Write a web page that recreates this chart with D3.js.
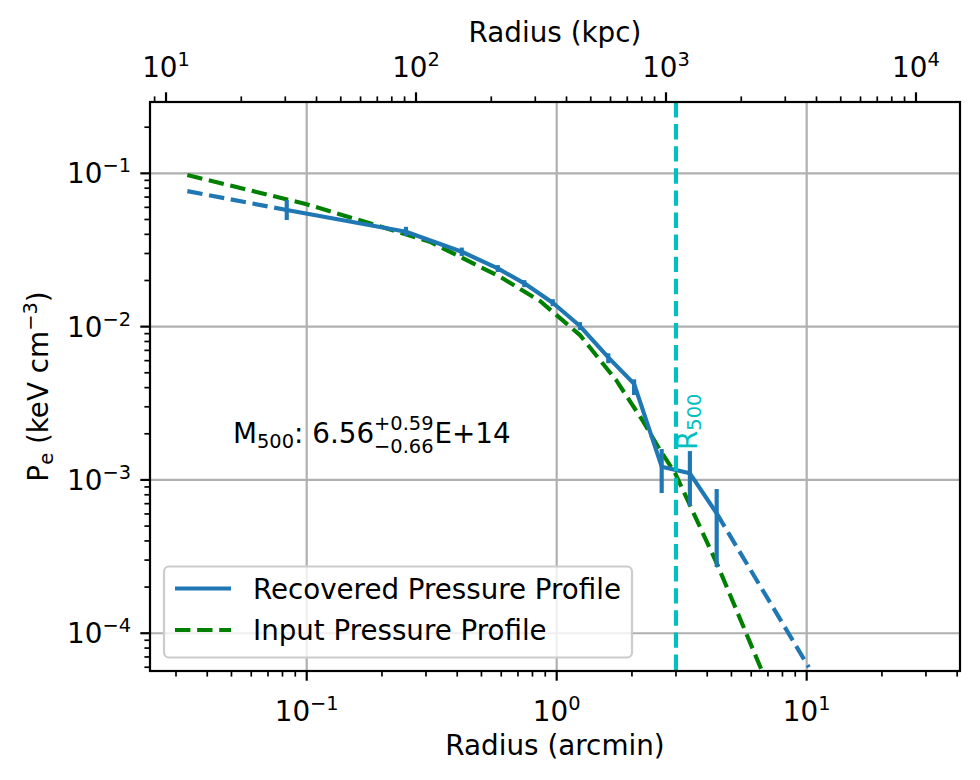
<!DOCTYPE html>
<html><head><meta charset="utf-8">
<script src="https://cdn.jsdelivr.net/npm/d3@7"></script>
<style>body{margin:0;background:#fff} text{font-family:"DejaVu Sans",sans-serif;fill:#000}</style>
</head><body><svg id="c" width="980" height="780"></svg>
<script>
// ---- data ----
const recRadius = [0.0832,0.2495,0.417,0.581,0.742,0.964,1.239,1.608,2.04,2.63,3.41,4.365];
const recP      = [0.0576,0.0416,0.0308,0.0240,0.01916,0.01432,0.01009,0.0063,0.00423,0.00122,0.001104,0.000605];
const recHi     = [0.0670,0.0448,0.0328,0.0252,0.0201,0.0151,0.0107,0.0067,0.00453,0.00159,0.001543,0.000872];
const recLo     = [0.0496,0.0390,0.0289,0.0227,0.0181,0.0136,0.00949,0.00577,0.00358,0.000822,0.000676,0.000270];
const innerR = [0.0333,0.0832];
const innerP = [0.0766,0.0576];
const outerR = [4.365,10.2];
const outerP = [0.000605,0.0000600];
const inputR = [0.0333,0.05,0.1,0.2,0.311,0.593,0.8575,1.239,1.727,2.2,2.59,2.974,4.365,5.5,6.625,7.0];
const inputP = [0.0975,0.0829,0.0628,0.0447,0.0358,0.02116,0.01469,0.00881,0.00449,0.00246,0.001567,0.00111,0.000287,0.000117,0.0000567,0.0000460];
const r500 = 3.0;
const kpcPerArcmin = 365.4;
const xDomain = [0.02361,41.05];
const yDomain = [5.67e-5,0.292];
const xMajor = [-1,0,1];
const topMajor = [1,2,3,4];
const yMajor = [-1,-2,-3,-4];
const legendLabels = ["Recovered Pressure Profile","Input Pressure Profile"];

// ---- layout ----
const L=150,R=960,T=102,B=671;
const FS=27.8, SS=19.4, LW=4.17, SW=2.2;
const blue="#1f77b4", green="#008000", cyan="#00bfbf", grid="#b0b0b0";
const svg=d3.select("#c");
const x=d3.scaleLog().domain(xDomain).range([L,R]);
const xk=d3.scaleLog().domain(xDomain.map(d=>d*kpcPerArcmin)).range([L,R]);
const y=d3.scaleLog().domain(yDomain).range([B,T]);

svg.append("defs").append("clipPath").attr("id","clip").append("rect")
  .attr("x",L).attr("y",T).attr("width",R-L).attr("height",B-T);

function minors(scale){
  const [a,b]=scale.domain(); const out=[];
  for(let e=Math.floor(Math.log10(a))-1;e<=Math.ceil(Math.log10(b));e++)
    for(let m=2;m<=9;m++){const v=m*Math.pow(10,e); if(v>=a&&v<=b) out.push(v);}
  return out;
}
// grid
const g=svg.append("g");
xMajor.forEach(e=>g.append("line").attr("x1",x(10**e)).attr("x2",x(10**e)).attr("y1",T).attr("y2",B).attr("stroke",grid).attr("stroke-width",SW));
yMajor.forEach(e=>g.append("line").attr("y1",y(10**e)).attr("y2",y(10**e)).attr("x1",L).attr("x2",R).attr("stroke",grid).attr("stroke-width",SW));

// data
const pl=svg.append("g").attr("clip-path","url(#clip)");
const line=d3.line().x(d=>x(d[0])).y(d=>y(d[1]));
const dash="15.4,6.7";
pl.append("path").attr("d",line(inputR.map((r,i)=>[r,inputP[i]]))).attr("fill","none").attr("stroke",green).attr("stroke-width",LW).attr("stroke-dasharray",dash);
pl.append("path").attr("d",line(innerR.map((r,i)=>[r,innerP[i]]))).attr("fill","none").attr("stroke",blue).attr("stroke-width",LW).attr("stroke-dasharray",dash);
pl.append("path").attr("d",line(outerR.map((r,i)=>[r,outerP[i]]))).attr("fill","none").attr("stroke",blue).attr("stroke-width",LW).attr("stroke-dasharray",dash);
pl.append("path").attr("d",line(recRadius.map((r,i)=>[r,recP[i]]))).attr("fill","none").attr("stroke",blue).attr("stroke-width",LW).attr("stroke-linejoin","round");
recRadius.forEach((r,i)=>pl.append("line").attr("x1",x(r)).attr("x2",x(r)).attr("y1",y(recLo[i])).attr("y2",y(recHi[i])).attr("stroke",blue).attr("stroke-width",LW));
pl.append("line").attr("x1",x(r500)).attr("x2",x(r500)).attr("y1",T).attr("y2",B).attr("stroke",cyan).attr("stroke-width",LW).attr("stroke-dasharray",dash);

// R500 label
const rl=svg.append("text").attr("transform",`translate(${x(r500)+21},450) rotate(-90)`).style("font-size",FS+"px").style("fill",cyan);
rl.append("tspan").text("R").style("fill",cyan);
rl.append("tspan").text("500").attr("dy",4).style("font-size",SS+"px").style("fill",cyan);

// M500 annotation (stacked super/subscript)
const mt=svg.append("text").attr("x",233).attr("y",443).style("font-size",FS+"px");
mt.append("tspan").text("M");
mt.append("tspan").text("500").attr("dy",4.5).style("font-size",SS+"px");
mt.append("tspan").text(": 6.56").attr("dy",-4.5);
const sup=mt.append("tspan").text("+0.59").attr("dy",-13.5).style("font-size",SS+"px");
const w=mt.node().getComputedTextLength();
const wUp=sup.node().getComputedTextLength();
mt.append("tspan").text("E+14").attr("x",233+w+1).attr("dy",13.5);
svg.append("text").attr("x",233+w-wUp).attr("y",452.5).style("font-size",SS+"px").text("\u22120.66");

// axes spines
const ax=svg.append("g");
ax.append("rect").attr("x",L).attr("y",T).attr("width",R-L).attr("height",B-T).attr("fill","none").attr("stroke","#000").attr("stroke-width",SW);

function ticks(vals,scale,orient,len,wid){
  vals.forEach(v=>{
    const p=scale(v);
    if(orient==="bottom") ax.append("line").attr("x1",p).attr("x2",p).attr("y1",B).attr("y2",B+len).attr("stroke","#000").attr("stroke-width",wid);
    if(orient==="top") ax.append("line").attr("x1",p).attr("x2",p).attr("y1",T).attr("y2",T-len).attr("stroke","#000").attr("stroke-width",wid);
    if(orient==="left") ax.append("line").attr("y1",p).attr("y2",p).attr("x1",L).attr("x2",L-len).attr("stroke","#000").attr("stroke-width",wid);
  });
}
ticks(minors(x),x,"bottom",5.6,1.7);
ticks(xMajor.map(e=>10**e),x,"bottom",9.7,SW);
ticks(minors(xk),xk,"top",5.6,1.7);
ticks(topMajor.map(e=>10**e),xk,"top",9.7,SW);
ticks(minors(y),y,"left",5.6,1.7);
ticks(yMajor.map(e=>10**e),y,"left",9.7,SW);

function powLabel(px,py,e,anchor){
  const t=ax.append("text").attr("x",px).attr("y",py).attr("text-anchor",anchor).style("font-size",FS+"px");
  t.append("tspan").text("10");
  t.append("tspan").text(e<0?"\u2212"+(-e):""+e).attr("dy",-11).style("font-size",SS+"px");
  return t;
}
xMajor.forEach(e=>powLabel(x(10**e),721,e,"middle"));
topMajor.forEach(e=>powLabel(xk(10**e),77,e,"middle"));
yMajor.forEach(e=>powLabel(131,y(10**e)+10,e,"end"));

// axis titles
ax.append("text").attr("x",(L+R)/2).attr("y",755).attr("text-anchor","middle").style("font-size",FS+"px").text("Radius (arcmin)");
ax.append("text").attr("x",(L+R)/2).attr("y",42).attr("text-anchor","middle").style("font-size",FS+"px").text("Radius (kpc)");
const yl=ax.append("text").attr("transform",`translate(48,${(T+B)/2}) rotate(-90)`).attr("text-anchor","middle").style("font-size",FS+"px");
yl.append("tspan").text("P");
yl.append("tspan").text("e").attr("dy",5).style("font-size",SS+"px");
yl.append("tspan").text(" (keV cm").attr("dy",-5);
yl.append("tspan").text("\u22123").attr("dy",-11).style("font-size",SS+"px");
yl.append("tspan").text(")").attr("dy",11);

// legend
const lg=svg.append("g");
lg.append("rect").attr("x",164).attr("y",566.5).attr("width",468).attr("height",91).attr("rx",5)
  .attr("fill","#fff").attr("fill-opacity",0.8).attr("stroke","#cccccc").attr("stroke-width",SW);
lg.append("line").attr("x1",175).attr("x2",231).attr("y1",588.5).attr("y2",588.5).attr("stroke",blue).attr("stroke-width",LW);
lg.append("line").attr("x1",175).attr("x2",231).attr("y1",630).attr("y2",630).attr("stroke",green).attr("stroke-width",LW).attr("stroke-dasharray",dash);
lg.append("text").attr("x",253).attr("y",598.5).style("font-size","27.7px").text(legendLabels[0]);
lg.append("text").attr("x",253).attr("y",640).style("font-size","27.7px").text(legendLabels[1]);
</script></body></html>
